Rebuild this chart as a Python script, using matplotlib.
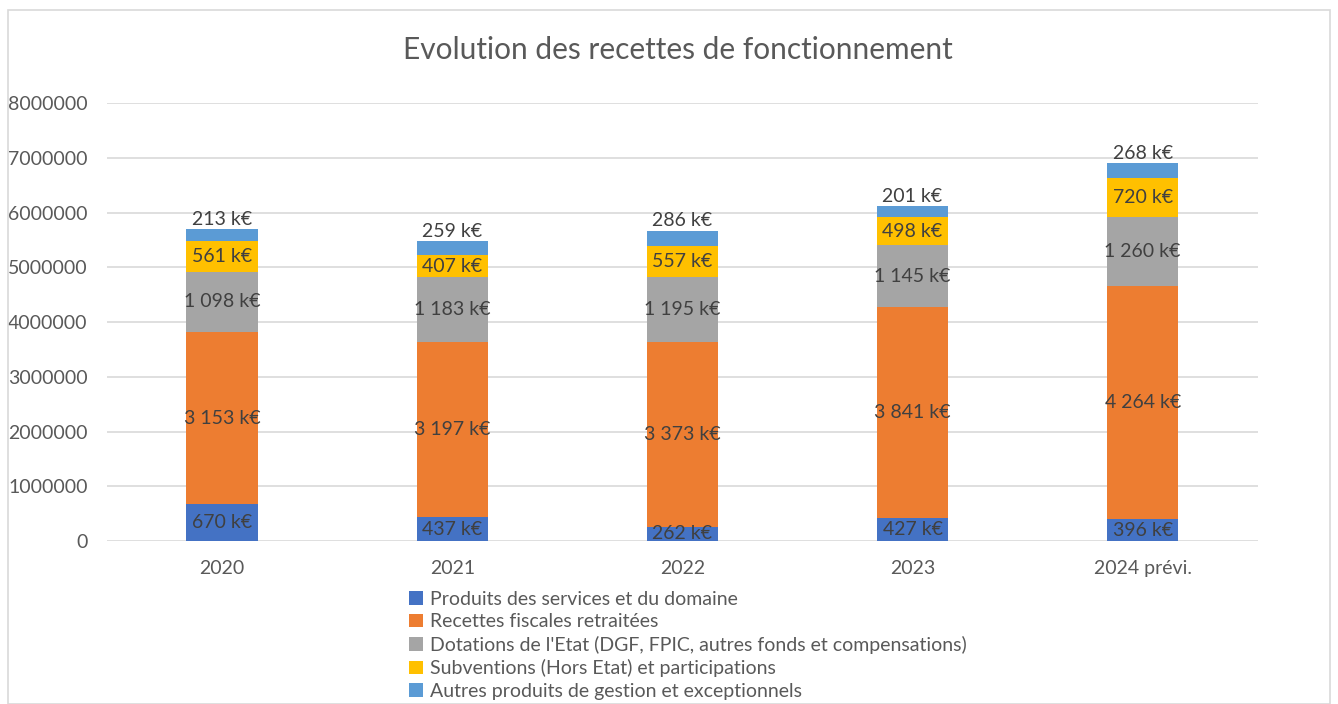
import matplotlib

matplotlib.use("Agg")
import matplotlib.pyplot as plt
import numpy as np
from matplotlib.patches import Rectangle

plt.rcParams["font.family"] = ["Lato", "DejaVu Sans"]

YEARS = ["2020", "2021", "2022", "2023", "2024 prévi."]

# values in k€, bottom -> top of the stack
SERIES = [
    "Produits des services et du domaine",
    "Recettes fiscales retraitées",
    "Dotations de l'Etat (DGF, FPIC, autres fonds et compensations)",
    "Subventions (Hors Etat) et participations",
    "Autres produits de gestion et exceptionnels",
]
produits = [670, 437, 262, 427, 396]
fiscales = [3153, 3197, 3373, 3841, 4264]
dotations = [1098, 1183, 1195, 1145, 1260]
subventions = [561, 407, 557, 498, 720]
autres = [213, 259, 286, 201, 268]

COLORS = ["#4472C4", "#ED7D31", "#A5A5A5", "#FFC000", "#5B9BD5"]
TEXT = "#595959"
LABEL = "#404040"


def fmt_k(v: int) -> str:
    return f"{v:,}".replace(",", " ") + " k€"


fig = plt.figure(figsize=(13.38, 7.04), dpi=100)
ax = fig.add_axes([0.080, 0.2315, 0.860, 0.622])

x = np.arange(len(YEARS))
w = 0.31
bottom = np.zeros(len(YEARS))
layers = [produits, fiscales, dotations, subventions, autres]
for i, (name, vals, color) in enumerate(zip(SERIES, layers, COLORS)):
    v = np.array(vals, dtype=float) * 1000
    ax.bar(x, v, width=w, bottom=bottom, color=color, label=name, zorder=3)
    for xi, b, h, raw in zip(x, bottom, v, vals):
        if i == len(layers) - 1:
            ax.text(xi, b + h + 20000, fmt_k(raw), ha="center", va="bottom",
                    fontsize=14, color=LABEL, zorder=4)
        else:
            ax.text(xi, b + h / 2, fmt_k(raw), ha="center", va="center",
                    fontsize=14, color=LABEL, zorder=4)
    bottom += v

ax.set_xlim(-0.5, len(YEARS) - 0.5)
ax.set_ylim(0, 8000000)
ax.set_yticks(np.arange(0, 8000001, 1000000))
ax.set_yticklabels([f"{int(t)}" for t in np.arange(0, 8000001, 1000000)])
ax.set_xticks(x)
ax.set_xticklabels(YEARS)
ax.tick_params(axis="both", length=0, labelsize=14, colors=TEXT)
ax.tick_params(axis="y", pad=14)
ax.tick_params(axis="x", pad=14)
ax.grid(True, axis="y", color="#D9D9D9", linewidth=1.2, zorder=0)
for s in ax.spines.values():
    s.set_visible(False)

fig.text(0.507, 0.929, "Evolution des recettes de fonctionnement",
         ha="center", va="center", fontsize=21.5, color=TEXT)

fig.legend(loc="upper left", bbox_to_anchor=(0.300, 0.172), frameon=False,
           fontsize=14, labelcolor=TEXT, handlelength=0.7, handleheight=0.7,
           handletextpad=0.35, labelspacing=0.28, borderaxespad=0)

fig.add_artist(Rectangle((8 / 1338, 0.0), 1322 / 1338, 694 / 704,
                         transform=fig.transFigure, fill=False,
                         edgecolor="#D9D9D9", linewidth=1.2))

fig.savefig("out.png", dpi=100)
